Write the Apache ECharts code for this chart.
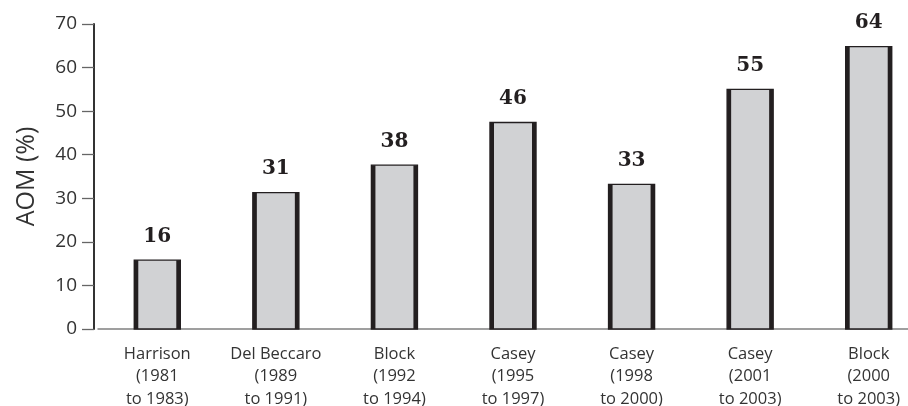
<!DOCTYPE html>
<html>
<head>
<meta charset="utf-8">
<script src="https://cdn.jsdelivr.net/npm/echarts@6/dist/echarts.min.js"></script>
<style>
html,body{margin:0;padding:0;background:#fff;}
#chart{width:908px;height:406px;}
</style>
</head>
<body>
<div id="chart"></div>
<script>
const categories = [
  'Harrison\n(1981\nto 1983)',
  'Del Beccaro\n(1989\nto 1991)',
  'Block\n(1992\nto 1994)',
  'Casey\n(1995\nto 1997)',
  'Casey\n(1998\nto 2000)',
  'Casey\n(2001\nto 2003)',
  'Block\n(2000\nto 2003)'
];
const barHeights = [15.8, 31.3, 37.6, 47.4, 33.2, 55.0, 64.8];
const printedValues = [16, 31, 38, 46, 33, 55, 64];
const yAxisName = 'AOM (%)';
const yMin = 0, yMax = 70, yInterval = 10;

const chart = echarts.init(document.getElementById('chart'));
const seriesData = barHeights.map((h, i) => [i, h, printedValues[i]]);

chart.setOption({
  animation: false,
  backgroundColor: '#ffffff',
  grid: { left: 98, top: 24, width: 830, height: 305, containLabel: false, outerBoundsMode: 'none' },
  xAxis: {
    type: 'category',
    data: categories,
    axisLine: { show: true, lineStyle: { color: '#808080', width: 1.5 } },
    axisTick: { show: false },
    axisLabel: {
      interval: 0, margin: 14, fontFamily: 'Open Sans', fontSize: 16.5,
      lineHeight: 22.5, color: '#333333', align: 'center'
    },
    splitLine: { show: false }
  },
  yAxis: {
    type: 'value',
    min: yMin, max: yMax, interval: yInterval,
    offset: 4,
    name: yAxisName,
    nameLocation: 'middle',
    nameGap: 55,
    nameRotate: 90,
    nameTextStyle: { fontFamily: 'Open Sans', fontSize: 25, color: '#333333' },
    axisLine: { show: true, lineStyle: { color: '#333333', width: 2 } },
    axisTick: { show: true, length: 12, lineStyle: { color: '#666666', width: 1.3 } },
    axisLabel: { margin: 17, fontFamily: 'Open Sans', fontSize: 19, color: '#333333' },
    splitLine: { show: false }
  },
  series: [{
    type: 'custom',
    data: seriesData,
    encode: { x: 0, y: 1 },
    renderItem: function (params, api) {
      const idx = api.value(0);
      const top = api.coord([idx, api.value(1)]);
      const base = api.coord([idx, 0]);
      const w = 46;
      const x0 = top[0] - w / 2;
      const h = base[1] - top[1];
      const side = 4;
      return {
        type: 'group',
        children: [
          {
            type: 'rect',
            shape: { x: x0, y: top[1], width: w, height: h },
            style: { fill: '#d1d2d4', stroke: '#231f20', lineWidth: 1.4 },
            textContent: {
              style: {
                text: String(api.value(2)),
                fontFamily: 'DejaVu Serif', fontWeight: 'bold', fontSize: 20,
                fill: '#231f20'
              }
            },
            textConfig: { position: 'top', distance: 13 }
          },
          {
            type: 'rect',
            shape: { x: x0, y: top[1], width: side, height: h },
            style: { fill: '#231f20' }
          },
          {
            type: 'rect',
            shape: { x: x0 + w - side, y: top[1], width: side, height: h },
            style: { fill: '#231f20' }
          }
        ]
      };
    }
  }]
});
</script>
</body>
</html>
